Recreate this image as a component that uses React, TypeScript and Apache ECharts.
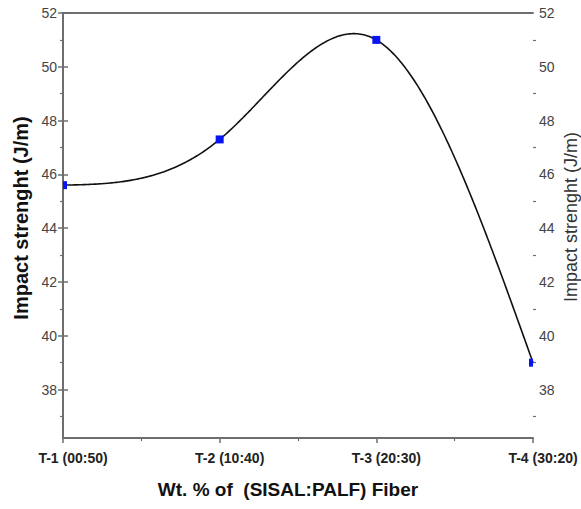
import React, { useEffect, useRef } from "react";
import * as echarts from "echarts";

const categories = ["T-1 (00:50)", "T-2 (10:40)", "T-3 (20:30)", "T-4 (30:20)"];
const impactValues = [45.6, 47.3, 51.0, 39.0];
const yMajorTicks = [38, 40, 42, 44, 46, 48, 50, 52];
const yMinorTicks = [37, 39, 41, 43, 45, 47, 49, 51];
const yMin = 36.2;
const yMax = 52;
const yAxisTitle = "Impact strenght (J/m)";
const xAxisTitle = "Wt. % of  (SISAL:PALF) Fiber";

const FONT = "'Liberation Sans', Arial, sans-serif";

// natural cubic spline through equally spaced points (x = 0..n-1)
function naturalSpline(ys: number[]) {
  const n = ys.length;
  const M: number[] = new Array(n).fill(0);
  const m = n - 2;
  const cp: number[] = new Array(m);
  const dp: number[] = new Array(m);
  for (let i = 0; i < m; i++) {
    const d = 6 * (ys[i] - 2 * ys[i + 1] + ys[i + 2]);
    const denom = 4 - (i > 0 ? cp[i - 1] : 0);
    cp[i] = 1 / denom;
    dp[i] = (d - (i > 0 ? dp[i - 1] : 0)) / denom;
  }
  for (let i = m - 1; i >= 0; i--) {
    M[i + 1] = dp[i] - cp[i] * M[i + 2];
  }
  return (t: number) => {
    const i = Math.min(Math.max(Math.floor(t), 0), n - 2);
    const u = t - i;
    const v = 1 - u;
    return (
      (M[i] * v * v * v) / 6 +
      (M[i + 1] * u * u * u) / 6 +
      (ys[i] - M[i] / 6) * v +
      (ys[i + 1] - M[i + 1] / 6) * u
    );
  };
}

export default function App() {
  const ref = useRef<HTMLDivElement>(null);
  useEffect(() => {
    if (!ref.current) return;
    const chart = echarts.init(ref.current, undefined, { renderer: "svg" });
    const spline = naturalSpline(impactValues);
    const axisLineStyle = { color: "#6e6e6e", width: 2 };
    const majorY = (position: "left" | "right") => ({
      type: "value",
      position,
      min: yMin,
      max: yMax,
      splitLine: { show: false },
      axisLine: { show: true, lineStyle: axisLineStyle },
      axisTick: { show: true, length: 5, inside: false, customValues: yMajorTicks, lineStyle: { color: "#6e6e6e", width: 1.5 } },
      axisLabel: {
        show: true,
        customValues: yMajorTicks,
        fontFamily: FONT,
        fontSize: 14,
        color: "#444",
        margin: 6,
      },
    });
    const minorY = (position: "left" | "right") => ({
      type: "value",
      position,
      min: yMin,
      max: yMax,
      splitLine: { show: false },
      axisLine: { show: false },
      axisTick: { show: true, length: 3, inside: false, customValues: yMinorTicks, lineStyle: { color: "#6e6e6e", width: 1.2 } },
      axisLabel: { show: false },
    });
    chart.setOption({
      animation: false,
      backgroundColor: "#ffffff",
      grid: { left: 63, right: 48, top: 13, bottom: 71, containLabel: false, outerBoundsMode: "none" },
      graphic: [
        {
          type: "text",
          x: 21,
          y: 218,
          rotation: Math.PI / 2,
          style: {
            text: yAxisTitle,
            fontFamily: FONT,
            fontSize: 20,
            fontWeight: "bold",
            fill: "#111",
            align: "center",
            verticalAlign: "middle",
          },
        },
        {
          type: "text",
          x: 571,
          y: 217,
          rotation: Math.PI / 2,
          style: {
            text: yAxisTitle,
            fontFamily: FONT,
            fontSize: 18,
            fill: "#333",
            align: "center",
            verticalAlign: "middle",
          },
        },
      ],
      xAxis: [
        {
          type: "value",
          position: "bottom",
          min: 0,
          max: categories.length - 1,
          interval: 1,
          splitLine: { show: false },
          axisLine: { show: true, lineStyle: axisLineStyle },
          axisTick: { show: true, length: 5, lineStyle: { color: "#6e6e6e", width: 1.5 } },
          minorTick: { show: true, splitNumber: 2, length: 3, lineStyle: { color: "#6e6e6e", width: 1.2 } },
          axisLabel: {
            formatter: (v: number) => categories[Math.round(v)] ?? "",
            fontFamily: FONT,
            fontSize: 14,
            fontWeight: "bold",
            color: "#222",
            margin: 13,
            padding: [0, 0, 0, 20],
          },
          name: xAxisTitle,
          nameLocation: "middle",
          nameGap: 42,
          nameTextStyle: { fontFamily: FONT, fontSize: 19, fontWeight: "bold", color: "#111", padding: [0, 20, 0, 0] },
        },
        {
          type: "value",
          position: "top",
          min: 0,
          max: categories.length - 1,
          splitLine: { show: false },
          axisLine: { show: true, lineStyle: axisLineStyle },
          axisTick: { show: false },
          axisLabel: { show: false },
        },
      ],
      yAxis: [majorY("left"), majorY("right"), minorY("left"), minorY("right")],
      series: [
        {
          type: "custom",
          xAxisIndex: 0,
          yAxisIndex: 0,
          clip: false,
          data: [[0, impactValues[0]]],
          renderItem: (_params: any, api: any) => {
            const pts: number[][] = [];
            const n = impactValues.length - 1;
            const steps = 300;
            for (let k = 0; k <= steps; k++) {
              const t = (k / steps) * n;
              pts.push(api.coord([t, spline(t)]));
            }
            return {
              type: "polyline",
              shape: { points: pts },
              style: { stroke: "#111", lineWidth: 1.6, fill: null },
            };
          },
          z: 2,
        },
        {
          type: "custom",
          xAxisIndex: 0,
          yAxisIndex: 0,
          clip: true,
          data: impactValues.map((v, i) => [i, v]),
          renderItem: (_params: any, api: any) => {
            const p = api.coord([api.value(0), api.value(1)]);
            const s = 8;
            return {
              type: "rect",
              shape: { x: p[0] - s / 2, y: p[1] - s / 2, width: s, height: s },
              style: { fill: "#0a14f0" },
            };
          },
          z: 3,
        },
      ],
    });
    return () => chart.dispose();
  }, []);
  return (
    <div
      ref={ref}
      style={{ position: "fixed", left: 0, top: 0, width: 581, height: 509, background: "#fff" }}
    />
  );
}
